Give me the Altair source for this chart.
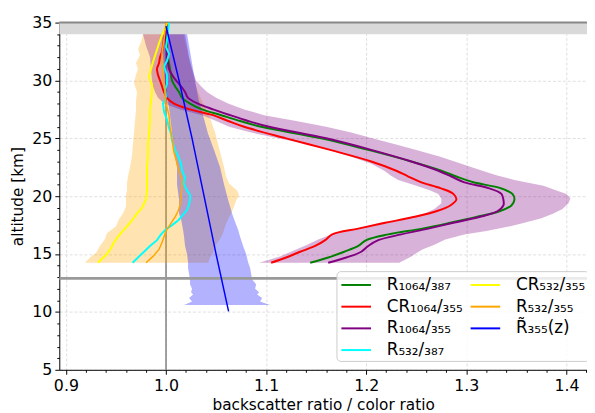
import altair as alt
import pandas as pd

FONT = "DejaVu Sans"

# ---------------- data ----------------
ALT_1064 = [14.25, 14.7, 15.2, 15.7, 16.2, 16.7, 17.2, 17.7, 18.2, 18.7, 19.2, 19.7,
            20.2, 20.7, 21.2, 21.7, 22.2, 23.0, 24.0, 25.0, 26.0, 26.5, 27.0, 27.5,
            28.0, 28.5, 29.0, 29.5, 30.0, 30.5, 31.0, 31.5, 32.0, 32.5, 33.0, 33.5,
            34.0, 34.5, 35.0]
R_1064_387 = [1.144, 1.162, 1.178, 1.192, 1.200, 1.222, 1.256, 1.284, 1.310, 1.333, 1.345, 1.348,
              1.346, 1.334, 1.307, 1.290, 1.275, 1.245, 1.202, 1.155, 1.095, 1.074, 1.055, 1.036,
              1.024, 1.016, 1.013, 1.009, 1.006, 1.005, 1.004, 1.003, 1.002, 1.001, 1.001, 1.001,
              1.001, 1.001, 1.001]
CR_1064_355 = [1.105, 1.120, 1.134, 1.149, 1.159, 1.166, 1.192, 1.219, 1.247, 1.270, 1.284, 1.290,
               1.287, 1.274, 1.255, 1.242, 1.230, 1.205, 1.164, 1.120, 1.078, 1.062, 1.047, 1.024,
               1.008, 1.001, 0.998, 0.996, 0.994, 0.992, 0.991, 0.993, 0.994, 0.996, 0.997, 0.998,
               0.999, 1.000, 1.001]
R_1064_355 = [1.162, 1.180, 1.195, 1.202, 1.212, 1.235, 1.262, 1.287, 1.313, 1.331, 1.337, 1.337,
              1.335, 1.322, 1.298, 1.285, 1.272, 1.245, 1.205, 1.160, 1.103, 1.082, 1.064, 1.047,
              1.032, 1.022, 1.019, 1.015, 1.010, 1.006, 1.003, 1.002, 1.001, 1.001, 1.000, 1.000,
              1.000, 1.000, 1.000]

PB_ALT = [14.25, 14.8, 15.4, 15.8, 16.25, 16.7, 17.0, 17.4, 17.7, 18.1, 18.5, 18.9, 19.4,
          19.8, 20.2, 20.5, 20.9, 21.4, 21.8, 22.2, 22.8, 23.4, 24.0, 24.5, 25.0, 25.5,
          26.0, 26.5, 27.0, 27.5, 28.0, 28.5, 29.0, 29.5, 30.0, 31.0, 32.0, 33.0, 34.0]
PB_LO = [1.093, 1.114, 1.130, 1.141, 1.152, 1.165, 1.180, 1.200, 1.213, 1.240, 1.258, 1.268, 1.275,
         1.275, 1.272, 1.264, 1.250, 1.232, 1.224, 1.218, 1.205, 1.185, 1.163, 1.140, 1.112, 1.085,
         1.063, 1.050, 1.036, 1.014, 0.998, 0.992, 0.989, 0.987, 0.986, 0.985, 0.984, 0.980, 0.977]
PB_HI = [1.233, 1.245, 1.256, 1.268, 1.279, 1.298, 1.320, 1.344, 1.358, 1.375, 1.387, 1.396, 1.402,
         1.404, 1.400, 1.390, 1.377, 1.348, 1.330, 1.316, 1.295, 1.274, 1.250, 1.228, 1.206, 1.185,
         1.160, 1.130, 1.098, 1.078, 1.062, 1.050, 1.041, 1.035, 1.030, 1.026, 1.023, 1.021, 1.019]

OB_ALT = [14.25, 14.7, 15.1, 15.7, 16.3, 16.8, 17.4, 18.0, 18.5, 19.1, 19.6, 20.1, 20.5, 21.1,
          21.7, 22.5, 23.5, 24.5, 25.5, 26.5, 27.5, 28.2, 29.0, 29.8, 30.5, 31.0, 31.5, 32.2,
          32.7, 33.3, 34.0]
OB_LO = [0.919, 0.924, 0.930, 0.934, 0.939, 0.941, 0.950, 0.953, 0.957, 0.960, 0.960, 0.960, 0.961,
         0.961, 0.962, 0.964, 0.966, 0.967, 0.968, 0.969, 0.970, 0.970, 0.971, 0.968, 0.970, 0.972,
         0.970, 0.974, 0.972, 0.975, 0.977]
OB_HI = [1.042, 1.044, 1.047, 1.049, 1.054, 1.057, 1.059, 1.062, 1.065, 1.068, 1.070, 1.073, 1.071,
         1.063, 1.060, 1.058, 1.055, 1.052, 1.049, 1.045, 1.040, 1.036, 1.032, 1.029, 1.027, 1.026,
         1.024, 1.022, 1.021, 1.019, 1.0175]

BB_ALT = [10.6, 10.9, 11.2, 11.5, 11.7, 12.0, 12.4, 12.8, 13.3, 13.8, 14.3, 15.0, 15.7, 16.5,
          17.1, 18.0, 18.5, 19.7, 21.0, 22.5, 24.0, 25.4, 27.0, 28.2, 29.5, 31.0, 32.5, 34.0]
BB_LO = [1.018, 1.026, 1.023, 1.027, 1.025, 1.026, 1.024, 1.024, 1.023, 1.022, 1.022, 1.021, 1.019,
         1.018, 1.017, 1.015, 1.013, 1.013, 1.011, 1.011, 1.008, 1.006, 1.004, 1.002, 0.999, 0.998,
         0.997, 0.996]
BB_HI = [1.104, 1.094, 1.096, 1.091, 1.093, 1.089, 1.090, 1.086, 1.085, 1.084, 1.082, 1.080, 1.077,
         1.074, 1.072, 1.068, 1.066, 1.062, 1.058, 1.054, 1.048, 1.042, 1.037, 1.033, 1.030, 1.027,
         1.024, 1.021]

Y_ALT = [14.25, 14.6, 15.0, 15.5, 16.0, 16.5, 17.0, 17.4, 17.9, 18.5, 19.0, 19.7, 20.5, 21.4,
         22.5, 23.5, 24.5, 25.3, 26.5, 27.5, 28.2, 29.0, 29.6, 30.3, 31.0, 31.6, 32.4, 33.2,
         33.9, 34.5, 35.0]
CR_532_355 = [0.932, 0.936, 0.941, 0.945, 0.948, 0.952, 0.957, 0.961, 0.966, 0.971, 0.976, 0.980,
              0.981, 0.981, 0.981, 0.982, 0.982, 0.983, 0.984, 0.984, 0.985, 0.986, 0.986, 0.983,
              0.985, 0.987, 0.990, 0.993, 0.996, 0.999, 1.001]

C_ALT = [14.25, 14.7, 15.2, 15.7, 16.2, 16.7, 17.1, 17.5, 17.95, 18.4, 18.8, 19.3, 19.7, 20.1,
         20.5, 21.1, 21.6, 22.2, 22.8, 23.35, 24.0, 24.8, 25.4, 25.9, 26.6, 27.3, 28.0, 28.6,
         29.2, 29.7, 30.5, 31.2, 31.7, 32.3, 32.9, 33.5, 34.2, 35.0]
R_532_387 = [0.9666, 0.972, 0.978, 0.984, 0.991, 0.995, 0.9995, 1.006, 1.0126, 1.017, 1.021, 1.023,
             1.024, 1.024, 1.021, 1.0175, 1.019, 1.016, 1.015, 1.0126, 1.009, 1.006, 1.005, 1.003,
             1.001, 0.998, 0.997, 1.000, 0.999, 1.001, 1.001, 0.998, 1.001, 1.003, 1.000, 1.001,
             1.002, 1.003]

O_ALT = [14.25, 14.8, 15.4, 16.0, 16.5, 17.0, 17.4, 17.8, 18.2, 18.7, 19.2, 19.7, 20.3, 21.0,
         21.4, 22.5, 23.9, 25.0, 26.0, 27.0, 28.2, 29.0, 29.6, 30.5, 31.5, 32.4, 33.5, 34.3, 35.0]
R_532_355 = [0.980, 0.987, 0.993, 0.996, 0.998, 1.000, 1.003, 1.006, 1.009, 1.012, 1.014, 1.0145,
             1.0155, 1.016, 1.016, 1.012, 1.0077, 1.006, 1.004, 1.003, 0.9995, 0.999, 0.998, 0.997,
             0.996, 0.996, 0.998, 0.999, 1.000]

B_ALT = [10.05, 15.0, 20.0, 25.0, 30.0, 34.7]
R355_TILDE = [1.0625, 1.050, 1.038, 1.026, 1.013, 1.000]

TOP_BAND = [34.0, 35.0]
TOP_LINE = 35.0
H_LINE = 12.9
V_LINE = 1.0

X_DOMAIN = [0.8934, 1.4205]
Y_DOMAIN = [5, 35]
X_TICKS = [round(0.90 + 0.02 * i, 2) for i in range(27)]
Y_TICKS = list(range(5, 36))

NAMES = {
    "g": "R\u2081\u2080\u2086\u2084/\u2083\u2088\u2087",
    "r": "CR\u2081\u2080\u2086\u2084/\u2083\u2085\u2085",
    "p": "R\u2081\u2080\u2086\u2084/\u2083\u2085\u2085",
    "c": "R\u2085\u2083\u2082/\u2083\u2088\u2087",
    "y": "CR\u2085\u2083\u2082/\u2083\u2085\u2085",
    "o": "R\u2085\u2083\u2082/\u2083\u2085\u2085",
    "b": "R\u0303\u2083\u2085\u2085(z)",
}
# legend order (vega fills the 2 columns column by column)
LEG_KEYS = ["g", "r", "p", "c", "y", "o", "b"]
COLORS = {"g": "green", "r": "red", "p": "purple", "c": "cyan",
          "y": "yellow", "o": "orange", "b": "blue"}

# ---------------- scales / axes ----------------
xs = alt.Scale(domain=X_DOMAIN, nice=False, zero=False)
ys = alt.Scale(domain=Y_DOMAIN, nice=False, zero=False)

XMAJ = "abs(datum.value*10 - round(datum.value*10)) < 0.001"
YMAJ = "datum.value % 5 === 0"

common_axis = dict(
    labelFont=FONT, labelFontSize=16, labelColor="black", labelPadding=3,
    labelOverlap=False, labelFlush=False,
    titleFont=FONT, titleFontSize=15.5, titleFontWeight="normal", titleColor="black",
    domainColor="black", domainWidth=1, tickColor="black", tickWidth=1,
    grid=True, gridColor="#d6d6d6", gridDash=[3, 2], gridWidth=0.8,
)
X_AXIS = alt.Axis(
    title="backscatter ratio / color ratio", values=X_TICKS,
    labelExpr=f"{XMAJ} ? format(datum.value, '.1f') : ''",
    tickSize={"condition": {"test": XMAJ, "value": 4.5}, "value": 2.5},
    gridOpacity={"condition": {"test": XMAJ, "value": 1}, "value": 0},
    titlePadding=5, **common_axis)
Y_AXIS = alt.Axis(
    title="altitude [km]", values=Y_TICKS,
    labelExpr=f"{YMAJ} ? format(datum.value, 'd') : ''",
    tickSize={"condition": {"test": YMAJ, "value": 4.5}, "value": 2.5},
    gridOpacity={"condition": {"test": YMAJ, "value": 1}, "value": 0},
    titlePadding=6, **common_axis)

LEGEND = alt.Legend(
    title=None, orient="none", legendX=281, legendY=252, columns=2,
    symbolType="M-1.5,0H1.5", symbolSize=400, symbolStrokeWidth=2, symbolOffset=6,
    labelFont=FONT, labelFontSize=17, labelColor="black", labelOffset=20,
    columnPadding=3, rowPadding=3, padding=3,
    fillColor="rgba(255,255,255,0.8)", strokeColor="#cccccc", cornerRadius=4,
)
color_scale = alt.Scale(domain=[NAMES[k] for k in LEG_KEYS],
                        range=[COLORS[k] for k in LEG_KEYS])


def X(f):
    return alt.X(f, type="quantitative", scale=xs, axis=X_AXIS)


def Y(f):
    return alt.Y(f, type="quantitative", scale=ys, axis=Y_AXIS)


layers = []

# grey band at top
layers.append(alt.Chart(pd.DataFrame({"y0": [TOP_BAND[0]], "y1": [TOP_BAND[1]]}))
              .mark_rect(color="#d9d9d9").encode(y=Y("y0"), y2="y1"))
# vertical line at 1.0
layers.append(alt.Chart(pd.DataFrame({"x": [V_LINE]}))
              .mark_rule(color="#808080", strokeWidth=1.5).encode(x=X("x")))

# uncertainty bands
for a, lo, hi, col in [(OB_ALT, OB_LO, OB_HI, "orange"),
                       (PB_ALT, PB_LO, PB_HI, "purple"),
                       (BB_ALT, BB_LO, BB_HI, "blue")]:
    df = pd.DataFrame({"alt": a, "lo": lo, "hi": hi})
    layers.append(alt.Chart(df).mark_area(orient="horizontal", color=col, opacity=0.3)
                  .encode(y=Y("alt"), x=X("lo"), x2="hi"))

# horizontal grey line
layers.append(alt.Chart(pd.DataFrame({"y": [H_LINE]}))
              .mark_rule(color="#999999", strokeWidth=3).encode(y=Y("y")))
# top line
layers.append(alt.Chart(pd.DataFrame({"y": [TOP_LINE]}))
              .mark_rule(color="#888888", strokeWidth=2).encode(y=Y("y")))

# profiles, in drawing order
series = [("g", ALT_1064, R_1064_387, 2, "catmull-rom"),
          ("r", ALT_1064, CR_1064_355, 2, "catmull-rom"),
          ("p", ALT_1064, R_1064_355, 2, "catmull-rom"),
          ("c", C_ALT, R_532_387, 2, "linear"),
          ("y", Y_ALT, CR_532_355, 2, "linear"),
          ("o", O_ALT, R_532_355, 1.5, "linear"),
          ("b", B_ALT, R355_TILDE, 1.5, "linear")]
for key, a, v, w, interp in series:
    df = pd.DataFrame({"alt": a, "val": v, "series": NAMES[key]})
    layers.append(alt.Chart(df).mark_line(strokeWidth=w, interpolate=interp, clip=True)
                  .encode(x=X("val"), y=Y("alt"), order=alt.Order("alt:Q"),
                          color=alt.Color("series:N", scale=color_scale, legend=LEGEND)))

chart = (alt.layer(*layers)
         .properties(width=535, height=352,
                     autosize=alt.AutoSizeParams(type="none"),
                     padding={"left": 52, "top": 12, "right": 0, "bottom": 41},
                     background="white")
         .configure_view(stroke=None))

chart.save("out.html", embed_options={"renderer": "svg", "actions": False})
